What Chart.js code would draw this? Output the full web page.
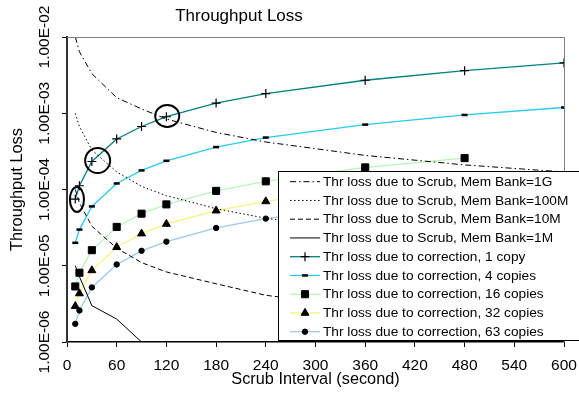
<!DOCTYPE html>
<html>
<head>
<meta charset="utf-8">
<script src="https://cdn.jsdelivr.net/npm/chart.js@4.4.1/dist/chart.umd.min.js"></script>
<style>
  html, body { margin: 0; padding: 0; background: #fff; }
</style>
</head>
<body>
<canvas id="lossChart" width="579" height="397"></canvas>
<script>
// scrub interval (seconds) for every series
const scrubInterval = [10, 15, 30, 60, 90, 120, 180, 240, 360, 480, 600];

// throughput loss due to scrub
const scrub1G   = [1.0e-2, 6.4e-3, 3.3e-3, 1.6e-3, 1.14e-3, 8.4e-4, 5.6e-4, 4.2e-4, 2.8e-4, 2.1e-4, 1.7e-4];
const scrub100M = [1.0e-3, 6.7e-4, 3.3e-4, 1.7e-4, 1.1e-4, 8.3e-5, 5.6e-5, 4.2e-5, 2.8e-5, 2.1e-5, 1.7e-5];
const scrub10M  = [1.0e-4, 6.7e-5, 3.3e-5, 1.7e-5, 1.1e-5, 8.3e-6, 5.8e-6, 4.1e-6, 2.8e-6, 2.1e-6, 1.7e-6];
const scrub1M   = [1.0e-5, 7.2e-6, 3.0e-6, 2.0e-6, 1.0e-6, 1.0e-6, 1.0e-6, 1.0e-6, 1.0e-6, 1.0e-6, 1.0e-6];

// throughput loss due to correction
const corr1  = [7.5e-5, 1.12e-4, 2.33e-4, 4.6e-4, 6.7e-4, 9.0e-4, 1.36e-3, 1.81e-3, 2.71e-3, 3.62e-3, 4.57e-3];
const corr4  = [2.0e-5, 2.98e-5, 6.0e-5, 1.2e-4, 1.78e-4, 2.38e-4, 3.6e-4, 4.8e-4, 7.1e-4, 9.5e-4, 1.19e-3];
const corr16 = [5.35e-6, 8.1e-6, 1.6e-5, 3.23e-5, 4.82e-5, 6.38e-5, 9.6e-5, 1.28e-4, 1.95e-4, 2.58e-4];
const corr32 = [2.95e-6, 4.33e-6, 8.7e-6, 1.75e-5, 2.64e-5, 3.53e-5, 5.28e-5, 6.98e-5, 1.05e-4, 1.4e-4];
const corr63 = [1.73e-6, 2.59e-6, 5.2e-6, 1.04e-5, 1.57e-5, 2.07e-5, 3.13e-5, 4.15e-5, 6.2e-5, 8.3e-5];

const seriesNames = [
  "Thr loss due to Scrub, Mem Bank=1G",
  "Thr loss due to Scrub, Mem Bank=100M",
  "Thr loss due to Scrub, Mem Bank=10M",
  "Thr loss due to Scrub, Mem Bank=1M",
  "Thr loss due to correction, 1 copy",
  "Thr loss due to correction, 4 copies",
  "Thr loss due to correction, 16 copies",
  "Thr loss due to correction, 32 copies",
  "Thr loss due to correction, 63 copies"
];

const yTickValues = [1e-6, 1e-5, 1e-4, 1e-3, 1e-2];
// the hand drawn circles, in data units
const circledPoints = [[12, 7.4e-5, 7, 12.5], [37, 2.4e-4, 12.5, 12.5], [121, 9.2e-4, 12, 11]];

const FONT = "'Liberation Sans', Arial, sans-serif";

function sciLabel(v) {
  const e = Math.round(Math.log10(v));
  const m = v / Math.pow(10, e);
  return m.toFixed(2) + "E" + (e < 0 ? "-" : "+") + String(Math.abs(e)).padStart(2, "0");
}

function toPoints(ys) {
  return ys.map((y, i) => ({ x: scrubInterval[i], y: y }));
}

function series(idx, ys, color, dash, style, radius, pbw) {
  return {
    label: seriesNames[idx],
    data: toPoints(ys),
    borderColor: color,
    borderWidth: style ? 1.3 : 1,
    borderDash: dash,
    pointStyle: style || false,
    pointRadius: style ? radius : 0,
    pointBorderWidth: pbw || 1,
    pointBackgroundColor: "#000",
    pointBorderColor: "#000",
    tension: 0
  };
}

function drawMarker(ctx, style, x, y, r, bw) {
  ctx.save();
  ctx.fillStyle = "#000";
  ctx.strokeStyle = "#000";
  ctx.lineWidth = bw;
  ctx.setLineDash([]);
  ctx.beginPath();
  if (style === "cross") {
    ctx.moveTo(x - r, y); ctx.lineTo(x + r, y);
    ctx.moveTo(x, y - r); ctx.lineTo(x, y + r);
    ctx.stroke();
  } else if (style === "line") {
    ctx.moveTo(x - r, y); ctx.lineTo(x + r, y);
    ctx.stroke();
  } else if (style === "rect") {
    const s = Math.SQRT1_2 * r;
    ctx.rect(x - s, y - s, 2 * s, 2 * s);
    ctx.fill(); ctx.stroke();
  } else if (style === "triangle") {
    for (let k = 0; k < 3; k++) {
      const a = k * 2 * Math.PI / 3;
      const px = x + Math.sin(a) * r, py = y - Math.cos(a) * r;
      if (k === 0) ctx.moveTo(px, py); else ctx.lineTo(px, py);
    }
    ctx.closePath(); ctx.fill(); ctx.stroke();
  } else if (style === "circle") {
    ctx.arc(x, y, r, 0, Math.PI * 2);
    ctx.fill(); ctx.stroke();
  }
  ctx.restore();
}

const extras = {
  id: "extras",
  afterDatasetsDraw(chart) {
    const ctx = chart.ctx;
    const xs = chart.scales.x, ys = chart.scales.y;
    const area = chart.chartArea;
    // plot frame, top and right
    ctx.save();
    ctx.strokeStyle = "#808080";
    ctx.lineWidth = 1;
    ctx.beginPath();
    ctx.moveTo(area.left, area.top + 0.5);
    ctx.lineTo(area.right + 0.5, area.top + 0.5);
    ctx.lineTo(area.right + 0.5, area.bottom);
    ctx.stroke();
    // circles
    ctx.strokeStyle = "#000";
    ctx.lineWidth = 2;
    circledPoints.forEach(c => {
      ctx.beginPath();
      ctx.ellipse(xs.getPixelForValue(c[0]), ys.getPixelForValue(c[1]), c[2], c[3], 0, 0, Math.PI * 2);
      ctx.stroke();
    });
    ctx.restore();
  },
  afterDraw(chart) {
    const ctx = chart.ctx;
    const ys = chart.scales.y;
    ctx.save();
    // rotated y tick labels
    ctx.fillStyle = "#000";
    ctx.font = "15.5px " + FONT;
    ctx.textAlign = "center";
    ctx.textBaseline = "middle";
    ys.ticks.forEach(t => {
      ctx.save();
      ctx.translate(44.5, ys.getPixelForValue(t.value));
      ctx.rotate(-Math.PI / 2);
      ctx.fillText(sciLabel(t.value), 0, 0);
      ctx.restore();
    });
    // title
    ctx.font = "17px " + FONT;
    ctx.fillText("Throughput Loss", 239, 16.5);

    // legend box
    const lx = 278, ly = 171, lw = 310, lh = 169;
    ctx.fillStyle = "#fff";
    ctx.fillRect(lx, ly, lw, lh);
    ctx.strokeStyle = "#000";
    ctx.lineWidth = 1;
    ctx.strokeRect(lx + 0.5, ly + 0.5, lw, lh);
    ctx.font = "13.7px " + FONT;
    ctx.textAlign = "left";
    chart.data.datasets.forEach((ds, i) => {
      const y = ly + 10.7 + i * 18.75;
      ctx.save();
      ctx.strokeStyle = ds.borderColor;
      ctx.lineWidth = ds.borderWidth;
      ctx.setLineDash(ds.borderDash || []);
      ctx.beginPath();
      ctx.moveTo(290, y);
      ctx.lineTo(320, y);
      ctx.stroke();
      ctx.restore();
      if (ds.pointStyle) drawMarker(ctx, ds.pointStyle, 305, y, ds.pointRadius, ds.pointBorderWidth);
      ctx.fillStyle = "#000";
      ctx.fillText(ds.label, 323, y + 0.5);
    });
    ctx.restore();
  }
};

Chart.defaults.font.family = FONT;
Chart.defaults.color = "#000";

new Chart(document.getElementById("lossChart"), {
  type: "line",
  data: {
    datasets: [
      series(0, scrub1G, "#000", [6, 3, 1.5, 3]),
      series(1, scrub100M, "#000", [1.5, 2.5]),
      series(2, scrub10M, "#000", [5, 3]),
      series(3, scrub1M, "#000", []),
      series(4, corr1, "#008080", [], "cross", 4.5, 1.2),
      series(5, corr4, "#22ccf5", [], "line", 3, 2.5),
      series(6, corr16, "#b8f5b8", [], "rect", 5, 1),
      series(7, corr32, "#f5f57a", [], "triangle", 4.6, 1),
      series(8, corr63, "#99c8f5", [], "circle", 2.7, 1)
    ]
  },
  options: {
    responsive: false,
    animation: false,
    layout: { padding: { top: 37, right: 15, left: 0, bottom: 0 } },
    plugins: { legend: { display: false }, tooltip: { enabled: false } },
    scales: {
      x: {
        type: "linear",
        min: 0, max: 600,
        afterFit: s => { s.height = 55; s.paddingLeft = 0; s.paddingRight = 0; },
        ticks: { stepSize: 60, font: { size: 15.5 }, padding: 9.5, maxRotation: 0 },
        grid: { drawOnChartArea: false, drawTicks: true, tickLength: 5, color: "#000" },
        border: { color: "#000", width: 1.5 },
        title: { display: true, text: "Scrub Interval (second)", font: { size: 16.3 }, padding: { top: 0, bottom: 7.4 } }
      },
      y: {
        type: "logarithmic",
        min: 1e-6, max: 1e-2,
        afterFit: s => { s.width = 67; },
        afterBuildTicks: s => { s.ticks = yTickValues.map(v => ({ value: v })); },
        ticks: { display: false },
        grid: { drawOnChartArea: false, drawTicks: true, tickLength: 5, color: "#000" },
        border: { color: "#333", width: 2 },
        title: { display: true, text: "Throughput Loss", font: { size: 16.4 }, padding: { top: 7.4, bottom: 0 } }
      }
    }
  },
  plugins: [extras]
});
</script>
</body>
</html>
